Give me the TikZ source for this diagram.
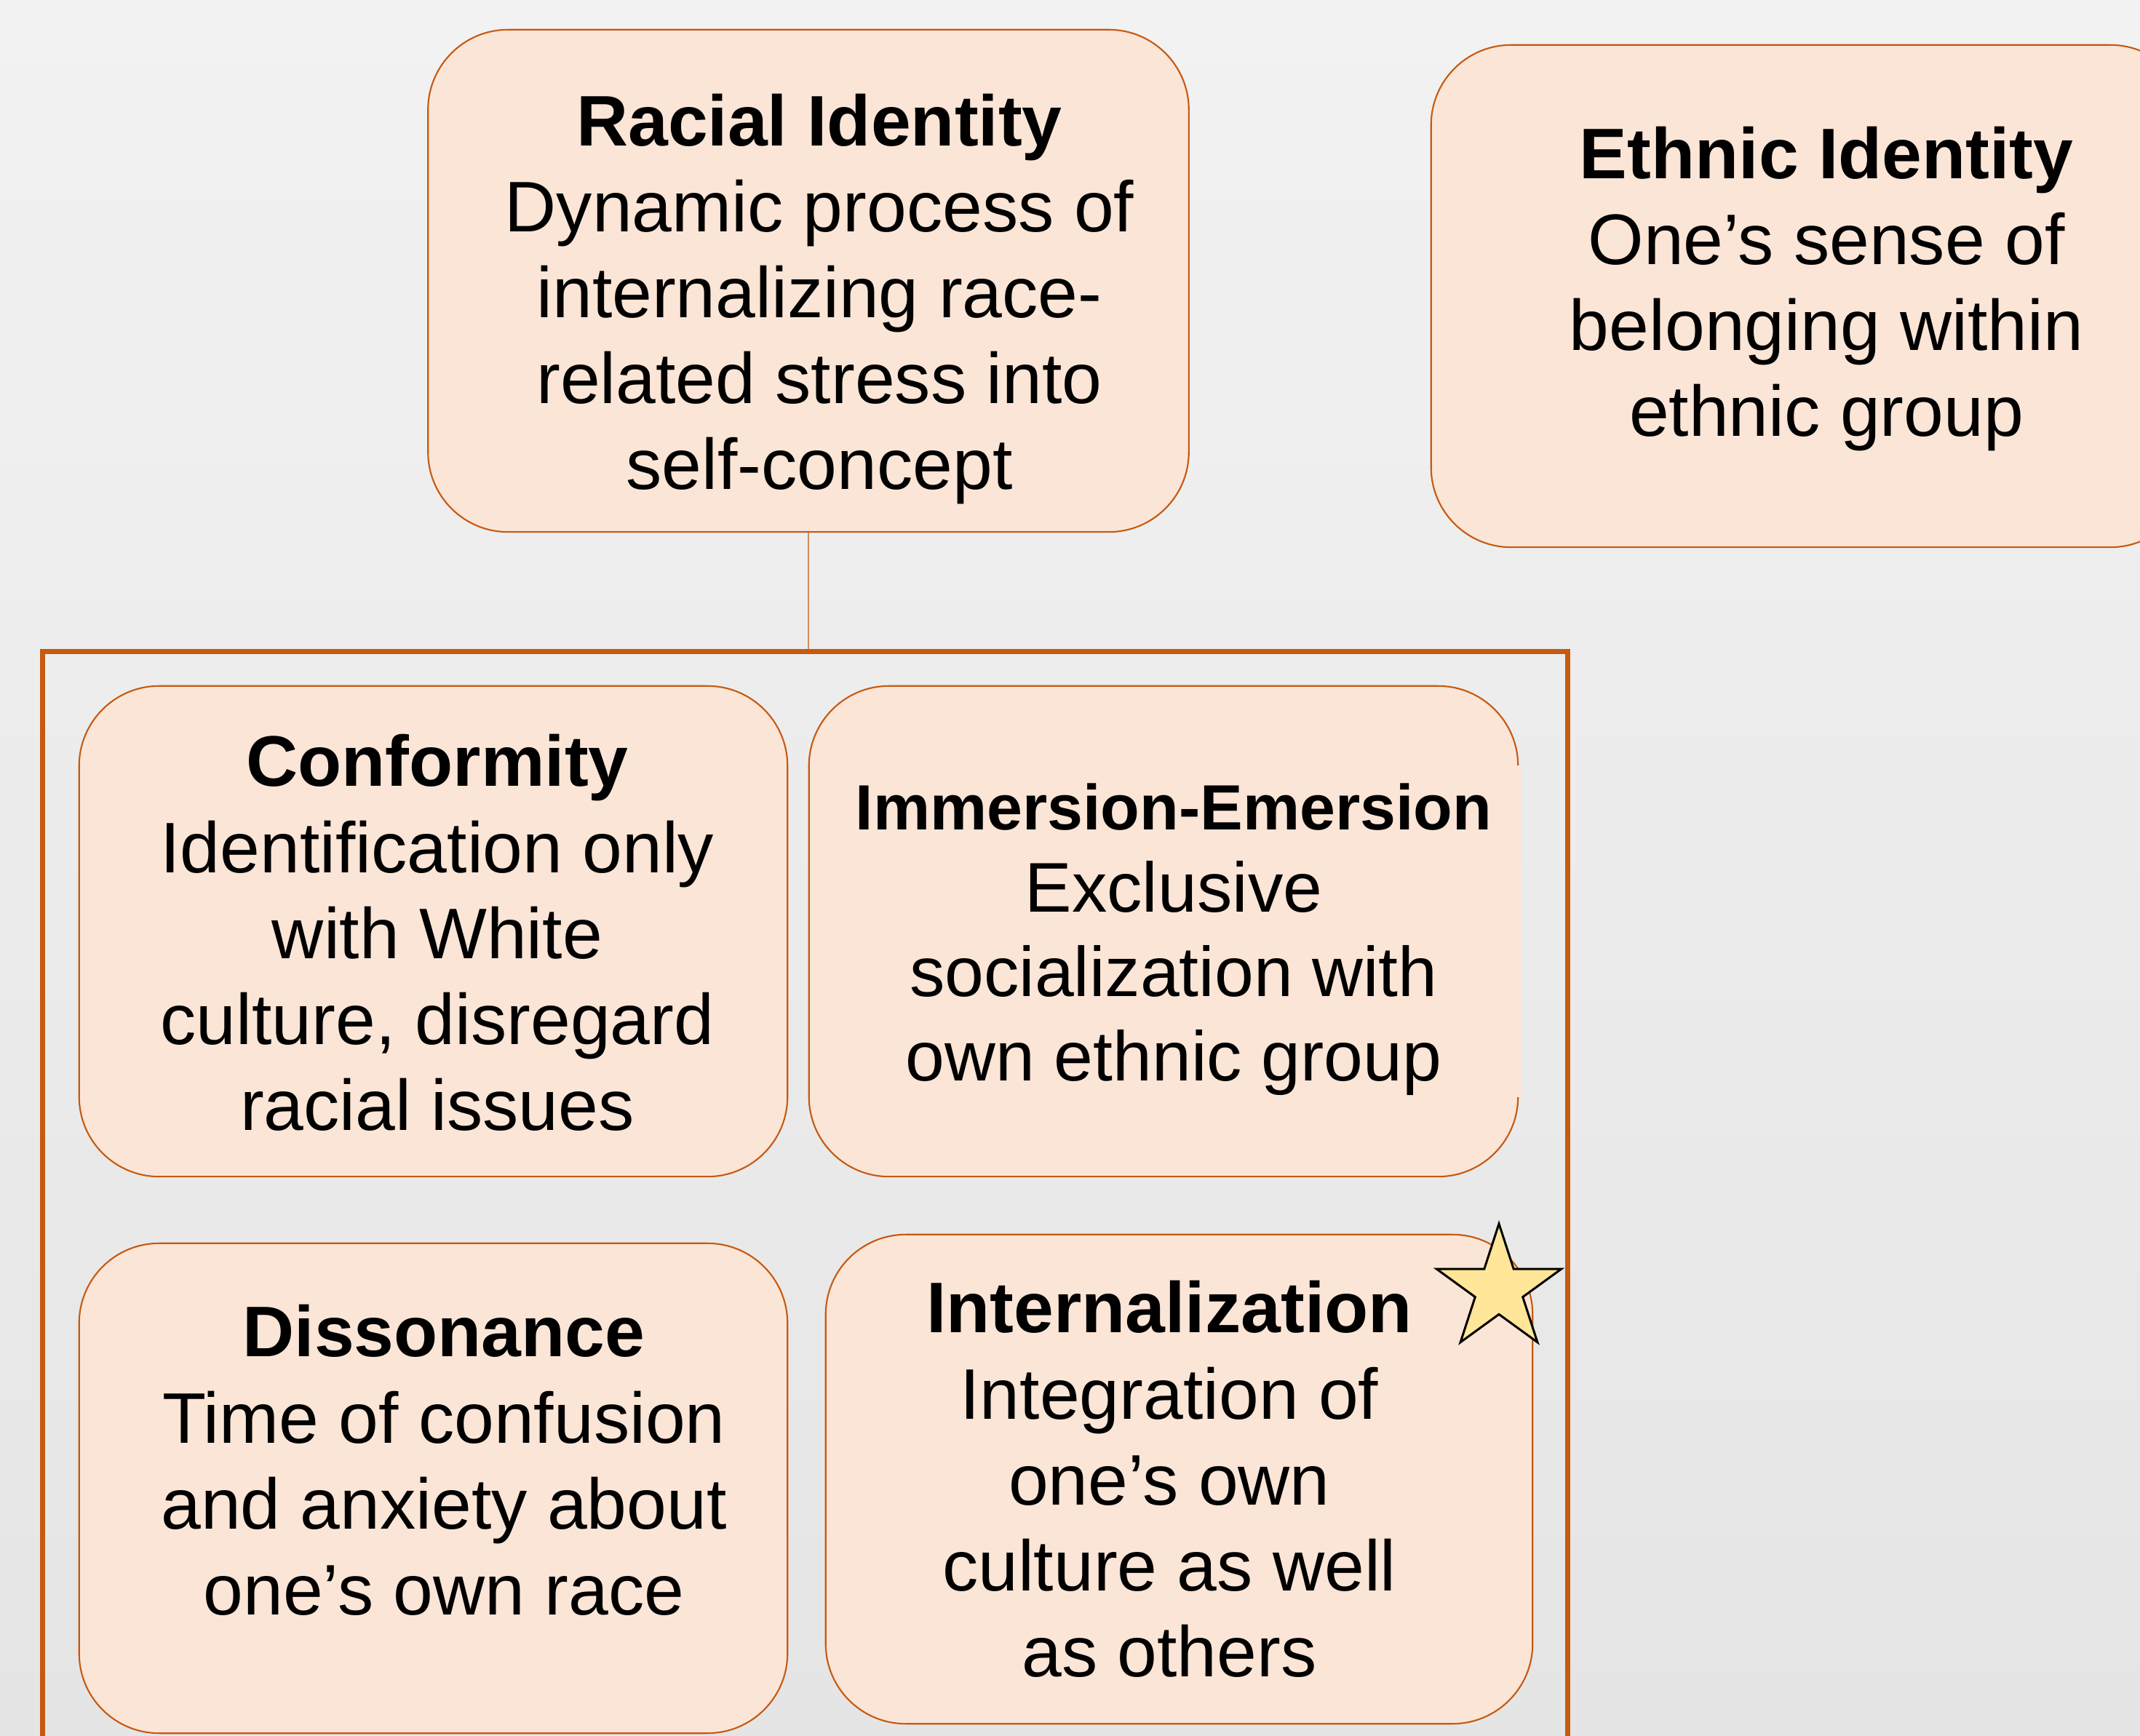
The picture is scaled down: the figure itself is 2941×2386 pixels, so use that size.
\documentclass[tikz,border=0pt]{standalone}
\usepackage{fontspec}
\setmainfont{Liberation Sans}
\usetikzlibrary{shapes.geometric}

\definecolor{bgtop}{HTML}{F2F2F2}
\definecolor{bgbot}{HTML}{E5E5E5}
\definecolor{boxfill}{HTML}{FBE5D6}
\definecolor{boxline}{HTML}{C55A11}
\definecolor{starfill}{HTML}{FFE699}

\tikzset{
  stagebox/.style={draw=boxline, line width=0.6pt, fill=boxfill, rounded corners=1.1cm, inner sep=0pt},
  stagetext/.style={align=center, inner sep=0pt, font=\fontsize{28}{33.6}\selectfont},
  stageframe/.style={draw=boxline, line width=2pt, inner sep=0pt},
  link/.style={draw=boxline!70!white, line width=0.6pt},
}

\begin{document}
\begin{tikzpicture}[x=0.01cm, y=-0.01cm]

  \useasboundingbox (0,0) rectangle (2941,2386);
  \clip (0,0) rectangle (2941,2386);
  \shade[top color=bgtop, bottom color=bgbot] (0,0) rectangle (2941,2386);

  %% top row
  \node[stagebox, minimum width=10.45cm, minimum height=6.9cm] (racial) at (1111,386) {};
  \node[stagebox, minimum width=10.43cm, minimum height=6.9cm] (ethnic) at (2488.5,407) {};

  \node[stagetext] (racial-t) at (1126,411)
    {\textbf{Racial Identity}\\Dynamic process of\\internalizing race-\\related stress into\\self-concept};
  \node[stagetext] (ethnic-t) at (2510,397)
    {\textbf{Ethnic Identity}\\One’s sense of\\belonging within\\ethnic group};

  %% frame round the stages
  \node[minimum width=20.93cm, minimum height=15.6cm] (stages) at (1106.5,1677) {};
  \draw[link] (racial.south) -- (racial.south |- stages.north);
  \draw[stageframe] (stages.south west) rectangle (stages.north east);

  %% the four stages
  \node[stagebox, minimum width=9.73cm, minimum height=6.74cm] (conf) at (595.5,1280) {};
  \node[stagebox, minimum width=9.74cm, minimum height=6.74cm] (imm) at (1599,1280) {};
  \node[stagebox, minimum width=9.73cm, minimum height=6.73cm] (dis) at (595.5,2045.5) {};
  \node[stagebox, minimum width=9.71cm, minimum height=6.72cm] (int) at (1620.5,2033) {};

  %% right side of imm has no outline
  \fill[boxfill] ([xshift=-0.04cm, yshift=-1.1cm]imm.north east) rectangle ([xshift=0.04cm, yshift=1.1cm]imm.south east);

  \node[stagetext] (conf-t) at (601,1282)
    {\textbf{Conformity}\\Identification only\\with White\\culture, disregard\\racial issues};
  \node[stagetext, font=\fontsize{27.5}{33}\selectfont] (imm-t) at (1613,1291)
    {{\fontsize{25}{30}\selectfont\textbf{Immersion-Emersion}}\\[-1pt]Exclusive\\socialization with\\own ethnic group};
  \node[stagetext] (dis-t) at (610,2007)
    {\textbf{Dissonance}\\Time of confusion\\and anxiety about\\one’s own race};
  \node[stagetext] (int-t) at (1607,2033)
    {\textbf{Internalization}\\Integration of\\one’s own\\culture as well\\as others};

  \node[star, star points=5, star point ratio=2.618, minimum size=1.8cm, inner sep=0pt,
        draw=black, line width=0.85pt, fill=starfill] (mark) at (2060,1772) {};

\end{tikzpicture}
\end{document}
